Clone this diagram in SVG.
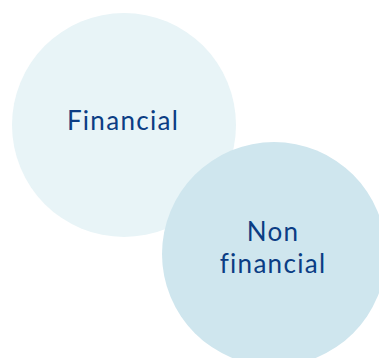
<svg xmlns="http://www.w3.org/2000/svg" width="379" height="358" viewBox="0 0 379 358">
<style>
.lbl{font-family:Lato,"Open Sans",sans-serif;font-size:26px;letter-spacing:1.3px;fill:#0b3d84;text-anchor:middle}
</style>
<rect width="379" height="358" fill="#ffffff"/>
<g id="financial">
<circle cx="124" cy="125" r="112" fill="#e8f4f7"/>
<text class="lbl" x="123" y="130">Financial</text>
</g>
<g id="non-financial">
<circle cx="274" cy="254" r="112" fill="#cfe6ee"/>
<text class="lbl" x="273" y="241">Non</text>
<text class="lbl" x="273" y="272.5">financial</text>
</g>
<g id="connectors"/>
</svg>
